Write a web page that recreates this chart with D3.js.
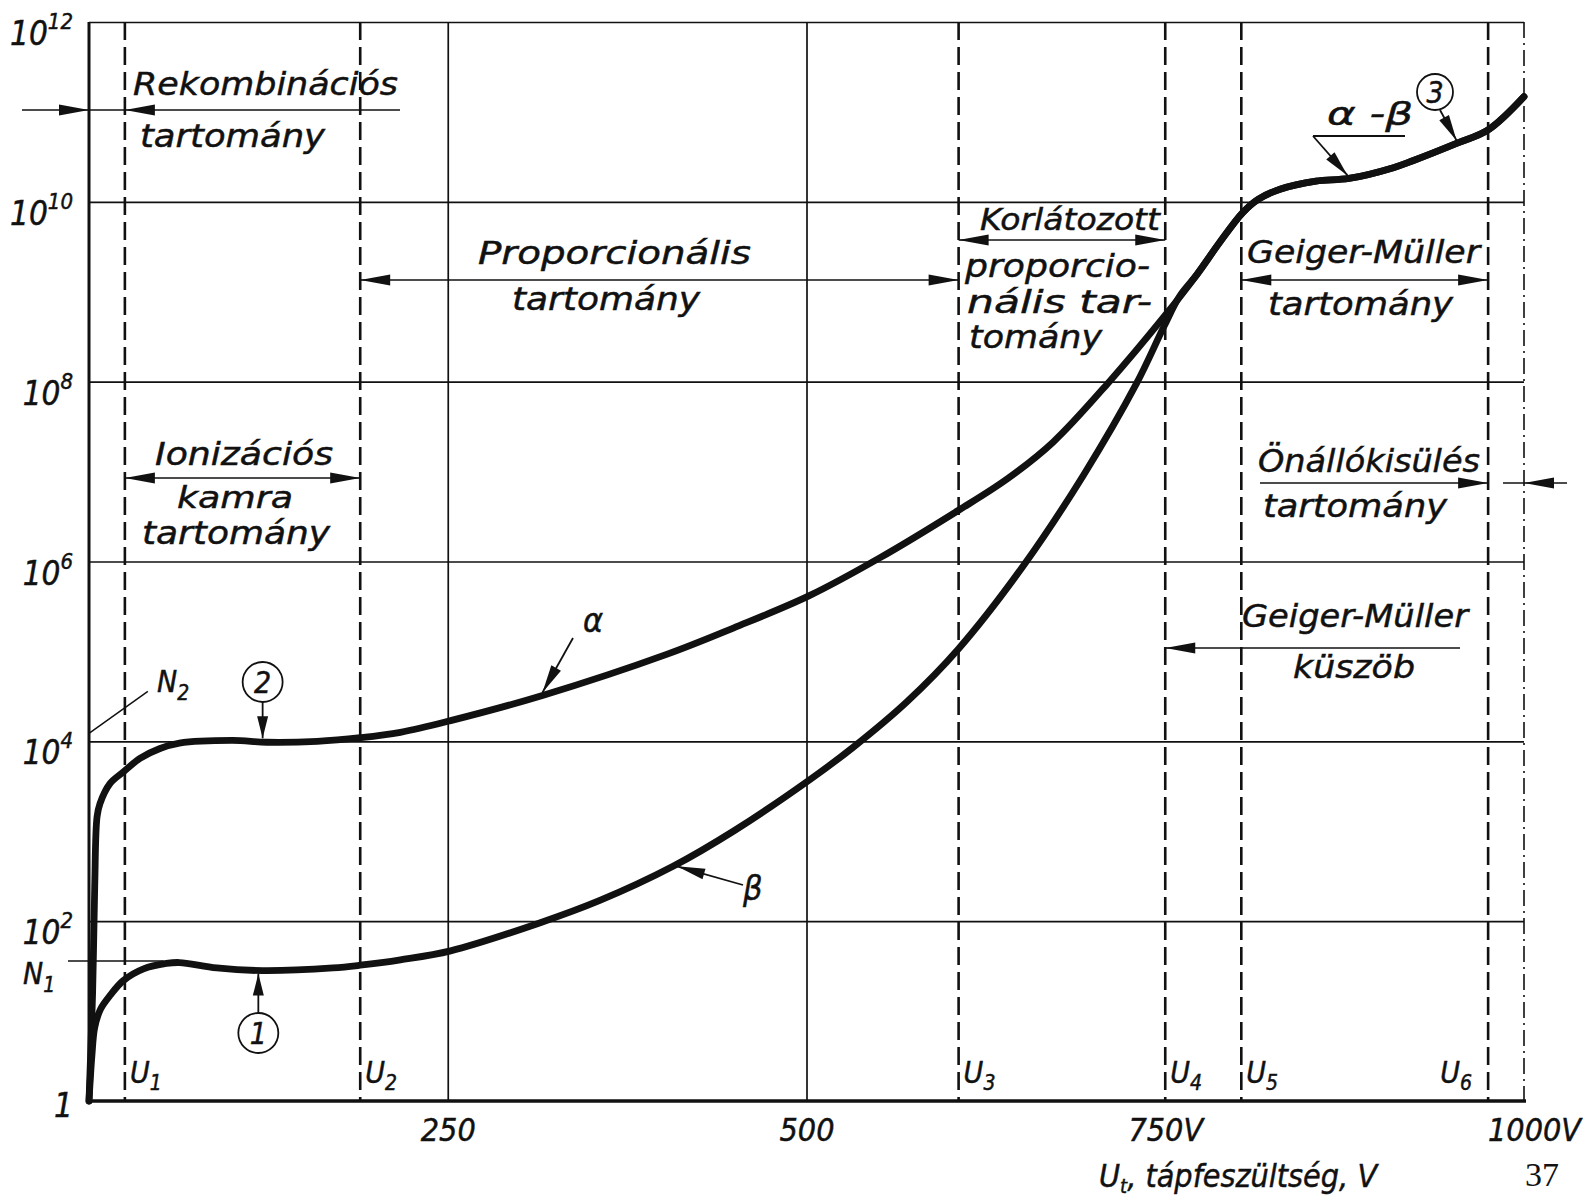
<!DOCTYPE html>
<html lang="hu">
<head>
<meta charset="UTF-8">
<script src="https://cdn.jsdelivr.net/npm/d3@7"></script>
<style>
  html, body { margin: 0; padding: 0; background: #fff; }
  svg { display: block; }
  text { font-family: "DejaVu Sans Condensed", "DejaVu Sans", sans-serif; font-style: italic; fill: #111; stroke: #111; stroke-width: 0.45px; }
</style>
<title>Gáztöltésű detektor tartományai</title>
</head>
<body>
<script>
const w = 1595;
const h = 1197;

// supply voltage (V) and log10 of the pulse count
const alphaU    = [0, 2.5, 4, 5.6, 7.7, 14.6, 24, 35.5, 49.5, 63, 100, 124, 159, 189, 217, 252, 316, 403, 449, 502, 551, 606, 640, 672, 711, 749];
const alphaLogN = [0, 1.2, 2.4, 3.16, 3.31, 3.53, 3.66, 3.81, 3.92, 3.98, 4.01, 3.99, 4.0, 4.04, 4.10, 4.23, 4.51, 4.97, 5.26, 5.62, 6.04, 6.57, 6.92, 7.33, 8.0, 8.72];
const betaU     = [0, 2, 4, 8, 15, 24, 38, 54, 63, 89, 121, 170, 189, 217, 252, 314, 356, 407, 449, 502, 533, 570, 606, 651, 693, 730, 749, 760];
const betaLogN  = [0, 0.5, 0.82, 1.02, 1.18, 1.34, 1.47, 1.53, 1.54, 1.48, 1.45, 1.48, 1.51, 1.57, 1.67, 1.98, 2.23, 2.61, 3.0, 3.57, 3.94, 4.44, 5.03, 5.95, 6.96, 7.98, 8.61, 8.95];
// common (alpha - beta) part above U4
const sharedU    = [772, 788, 804, 815, 830, 855, 878, 909, 923, 953, 975, 1000];
const sharedLogN = [9.19, 9.55, 9.88, 10.03, 10.14, 10.23, 10.26, 10.38, 10.46, 10.65, 10.8, 11.17];

const boundaryNames = ["1", "2", "3", "4", "5", "6"];
const boundaryU = [25, 189, 606, 750, 803, 975];

const xTicks = [250, 500, 750, 1000];
const xTickLabels = ["250", "500", "750V", "1000V"];
const xGrid = [250, 500];
const yDecades = [0, 2, 4, 6, 8, 10, 12];
const N1 = 36;
const N2 = 1e4;

const x = d3.scaleLinear().domain([0, 1000]).range([89, 1524]);
const y = d3.scaleLog().domain([1, 1e12]).range([1101, 22]);

const svg = d3.select("body").append("svg")
    .attr("width", w)
    .attr("height", h);

const ink = "#111";

// horizontal grid lines (every 2 decades, top one is the frame)
svg.append("g")
    .attr("transform", "translate(" + x(0) + ",0)")
    .call(d3.axisLeft(y).tickValues(yDecades.slice(1).map(d => Math.pow(10, d))).tickSize(-(x(1000) - x(0))).tickFormat(""))
    .call(g => g.select(".domain").remove())
    .selectAll("line").attr("stroke", ink).attr("stroke-width", 1.7);

// vertical grid lines
svg.append("g")
    .attr("transform", "translate(0," + y(1) + ")")
    .call(d3.axisBottom(x).tickValues(xGrid).tickSize(-(y(1) - y(1e12))).tickFormat(""))
    .call(g => g.select(".domain").remove())
    .selectAll("line").attr("stroke", ink).attr("stroke-width", 1.7);

// right frame, dash-dot
svg.append("line")
    .attr("x1", x(1000)).attr("x2", x(1000))
    .attr("y1", y(1e12)).attr("y2", y(1))
    .attr("stroke", ink).attr("stroke-width", 1.6)
    .attr("stroke-dasharray", "16,5,2,5");

// U1..U6 dashed boundaries
svg.append("g").selectAll("line")
    .data(boundaryU)
    .join("line")
    .attr("x1", d => x(d)).attr("x2", d => x(d))
    .attr("y1", y(1e12)).attr("y2", y(1))
    .attr("stroke", ink).attr("stroke-width", 2.6)
    .attr("stroke-dasharray", "18,7");

// axes
svg.append("line")
    .attr("x1", x(0)).attr("x2", x(0)).attr("y1", y(1e12)).attr("y2", y(1))
    .attr("stroke", ink).attr("stroke-width", 3);
svg.append("line")
    .attr("x1", x(0) - 1).attr("x2", x(1000) + 2).attr("y1", y(1)).attr("y2", y(1))
    .attr("stroke", ink).attr("stroke-width", 3.5);

// x tick labels
svg.append("g")
    .attr("transform", "translate(0," + y(1) + ")")
    .call(d3.axisBottom(x).tickValues(xTicks).tickSize(0).tickFormat((d, i) => xTickLabels[i]))
    .call(g => g.select(".domain").remove())
    .selectAll("text")
    .attr("y", 40).attr("dy", 0)
    .attr("dx", d => d === 1000 ? 10 : 0)
    .attr("font-family", null)
    .attr("fill", ink)
    .style("font-size", "32px");

// y labels 1, 10^2 ... 10^12
const yLab = svg.append("g").selectAll("text")
    .data(yDecades)
    .join("text")
    .attr("x", 73)
    .attr("y", d => y(Math.pow(10, d)) + (d === 0 ? 16 : 23))
    .attr("text-anchor", "end")
    .style("font-size", "33px");
yLab.each(function(d) {
    const t = d3.select(this);
    if (d === 0) { t.text("1"); return; }
    t.append("tspan").text("10");
    t.append("tspan").attr("dy", -16).style("font-size", "22px").text(d);
});

// N1 and N2 marks
svg.append("line")
    .attr("x1", 68).attr("x2", x(52))
    .attr("y1", y(N1)).attr("y2", y(N1))
    .attr("stroke", ink).attr("stroke-width", 1.5);
const n1 = svg.append("text").attr("x", 23).attr("y", y(N1) + 23).style("font-size", "30px");
n1.append("tspan").text("N");
n1.append("tspan").attr("dy", 8).style("font-size", "21px").text("1");

svg.append("line")
    .attr("x1", x(0)).attr("y1", y(N2) - 8)
    .attr("x2", x(41)).attr("y2", y(N2) - 50)
    .attr("stroke", ink).attr("stroke-width", 1.5);
const n2 = svg.append("text").attr("x", 157).attr("y", 692).style("font-size", "30px");
n2.append("tspan").text("N");
n2.append("tspan").attr("dy", 8).style("font-size", "21px").text("2");

// U labels
const uLab = svg.append("g").selectAll("text")
    .data(boundaryU)
    .join("text")
    .attr("x", (d, i) => i === 5 ? x(d) - 48 : x(d) + 5)
    .attr("y", 1083)
    .style("font-size", "30px");
uLab.append("tspan").text("U");
uLab.append("tspan").attr("dy", 7).style("font-size", "21px").text((d, i) => boundaryNames[i]);

// curves
const line = d3.line()
    .x(d => x(d[0]))
    .y(d => y(Math.pow(10, d[1])))
    .curve(d3.curveCatmullRom.alpha(0.5));

const alphaData = d3.zip(alphaU.concat(sharedU), alphaLogN.concat(sharedLogN));
const betaData = d3.zip(betaU.concat(sharedU), betaLogN.concat(sharedLogN));

[alphaData, betaData].forEach(data => {
    svg.append("path")
        .datum(data)
        .attr("d", line)
        .attr("fill", "none")
        .attr("stroke", ink)
        .attr("stroke-width", 6.8)
        .attr("stroke-linejoin", "round")
        .attr("stroke-linecap", "round");
});

// arrows
function head(tx, ty, fx, fy, len = 30, half = 5.5) {
    const a = Math.atan2(ty - fy, tx - fx);
    const bx = tx - len * Math.cos(a), by = ty - len * Math.sin(a);
    const px = -Math.sin(a) * half, py = Math.cos(a) * half;
    svg.append("path")
        .attr("d", `M${tx},${ty}L${bx + px},${by + py}L${bx - px},${by - py}Z`)
        .attr("fill", ink);
}
function seg(x1, y1, x2, y2, sw = 1.6) {
    svg.append("line")
        .attr("x1", x1).attr("y1", y1).attr("x2", x2).attr("y2", y2)
        .attr("stroke", ink).attr("stroke-width", sw);
}
function span(u1, u2, yy) {
    seg(x(u1), yy, x(u2), yy);
    head(x(u1), yy, x(u2), yy);
    head(x(u2), yy, x(u1), yy);
}

// Rekombinációs: from outside to the axis, and back to U1
seg(22, 110, 400, 110);
head(x(0), 110, 22, 110);
head(x(boundaryU[0]), 110, 400, 110);

span(boundaryU[0], boundaryU[1], 478);   // ionizációs kamra
span(boundaryU[1], boundaryU[2], 280);   // proporcionális
span(boundaryU[2], boundaryU[3], 240);   // korlátozott proporcionális
span(boundaryU[4], boundaryU[5], 280);   // Geiger-Müller

// önálló kisülés
seg(1260, 483, x(boundaryU[5]), 483);
head(x(boundaryU[5]), 483, 1260, 483);
seg(1503, 483, 1567, 483);
head(x(1000), 483, 1567, 483);

// Geiger-Müller küszöb
seg(x(boundaryU[3]), 648, 1460, 648);
head(x(boundaryU[3]), 648, 1460, 648);

// alpha / beta pointers
const tipA = [x(316), y(Math.pow(10, 4.51)) - 3];
seg(573, 638, tipA[0], tipA[1], 1.8);
head(tipA[0], tipA[1], 573, 638, 28, 5.5);

const tipB = [x(407) + 4, y(Math.pow(10, 2.61))];
seg(743, 885, tipB[0], tipB[1], 1.8);
head(tipB[0], tipB[1], 743, 885, 28, 5.5);

const tipAB = [x(877), y(Math.pow(10, 10.26)) - 3];
seg(1313, 136, 1405, 136, 1.8);
seg(1313, 136, tipAB[0], tipAB[1], 1.8);
head(tipAB[0], tipAB[1], 1313, 136, 26, 5.5);

const tip3 = [x(953), y(Math.pow(10, 10.65)) - 3];
seg(1440, 110, tip3[0], tip3[1], 1.8);
head(tip3[0], tip3[1], 1440, 110, 26, 5.5);

// circled numbers
const tip2 = [x(121), y(Math.pow(10, 4.0)) - 3];
const tip1 = [x(118), y(Math.pow(10, 1.45)) + 3];
const circles = [
    { n: "2", cx: tip2[0], cy: 682, r: 20 },
    { n: "1", cx: tip1[0], cy: 1033, r: 20 },
    { n: "3", cx: 1435, cy: 92, r: 18 }
];
circles.forEach(c => {
    svg.append("circle").attr("cx", c.cx).attr("cy", c.cy).attr("r", c.r)
        .attr("fill", "none").attr("stroke", ink).attr("stroke-width", 1.8);
    svg.append("text").attr("x", c.cx).attr("y", c.cy + 11)
        .attr("text-anchor", "middle").style("font-size", "30px").text(c.n);
});
seg(tip2[0], 702, tip2[0], tip2[1], 1.8);
head(tip2[0], tip2[1], tip2[0], 702, 22, 5.5);
seg(tip1[0], 1013, tip1[0], tip1[1], 1.8);
head(tip1[0], tip1[1], tip1[0], 1013, 22, 5.5);

// region texts: [text, x, baseline, width, size]
const labels = [
    ["Rekombinációs", 133, 95, 265, 32],
    ["tartomány", 140, 147, 185, 32],
    ["Ionizációs", 155, 465, 178, 32],
    ["kamra", 177, 508, 116, 31],
    ["tartomány", 142, 544, 188, 32],
    ["Proporcionális", 478, 264, 273, 32],
    ["tartomány", 512, 310, 188, 32],
    ["Korlátozott", 980, 230, 180, 30],
    ["proporcio-", 965, 277, 185, 32],
    ["nális tar-", 967, 313, 185, 32],
    ["tomány", 969, 348, 133, 32],
    ["Geiger-Müller", 1247, 263, 233, 32],
    ["tartomány", 1268, 315, 185, 32],
    ["Önállókisülés", 1258, 472, 222, 32],
    ["tartomány", 1263, 517, 184, 32],
    ["Geiger-Müller", 1242, 627, 226, 32],
    ["küszöb", 1293, 678, 122, 32],
    ["α -β", 1327, 125, 86, 32]
];
svg.append("g").selectAll("text")
    .data(labels)
    .join("text")
    .attr("x", d => d[1])
    .attr("y", d => d[2])
    .attr("textLength", d => d[3])
    .attr("lengthAdjust", "spacingAndGlyphs")
    .style("font-size", d => d[4] + "px")
    .text(d => d[0]);

svg.append("text").attr("x", 583).attr("y", 632).style("font-size", "34px").text("α");
svg.append("text").attr("x", 743).attr("y", 900).style("font-size", "34px").text("β");

// axis title
const title = svg.append("text").attr("x", 1099).attr("y", 1187).style("font-size", "32px");
title.append("tspan").text("U");
title.append("tspan").attr("dy", 6).style("font-size", "20px").text("t");
title.append("tspan").attr("dy", -6).text(", tápfeszültség, V");

// page number
svg.append("text")
    .attr("x", 1525).attr("y", 1186)
    .style("font-family", "'Liberation Serif', serif")
    .style("font-style", "normal")
    .style("stroke-width", "0px")
    .style("font-size", "34px")
    .text("37");
</script>
</body>
</html>
